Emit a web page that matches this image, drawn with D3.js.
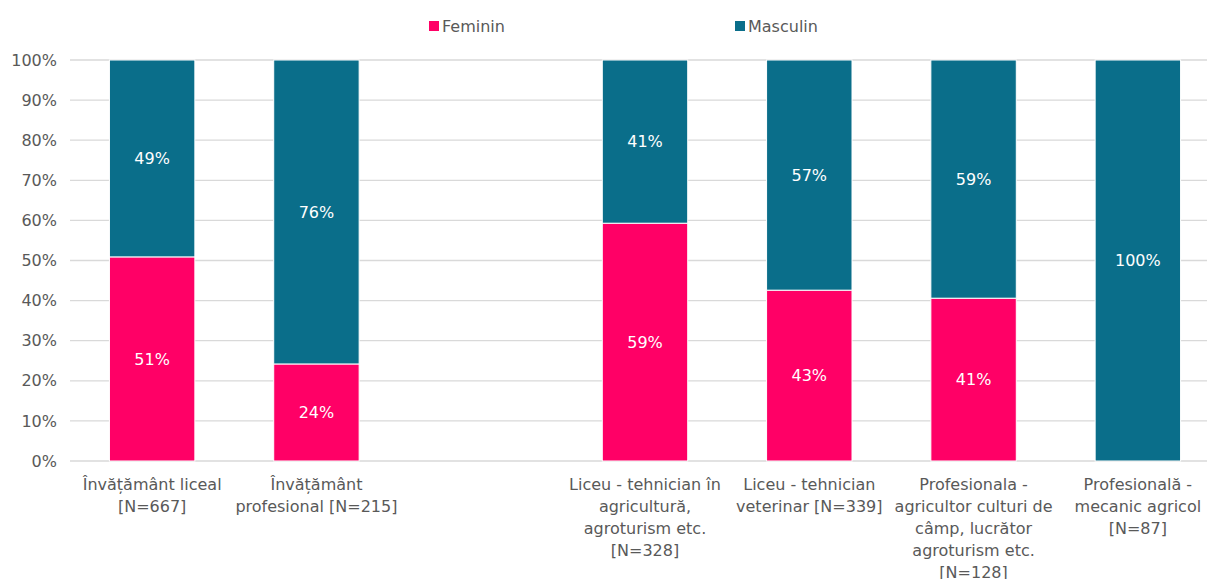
<!DOCTYPE html>
<html>
<head>
<meta charset="utf-8">
<script src="https://cdn.jsdelivr.net/npm/d3@7"></script>
<style>
  body { margin: 0; background: #fff; }
  text { font-family: "DejaVu Sans", sans-serif; }
</style>
</head>
<body>
<svg id="chart" width="1207" height="579"></svg>
<script>
// categories (empty slot keeps the gap between the two groups)
const categories = ["c1", "c2", "gap", "c4", "c5", "c6", "c7"];
const categoryLabels = [
    ["Învățământ liceal", "[N=667]"],
    ["Învățământ", "profesional [N=215]"],
    [],
    ["Liceu - tehnician în", "agricultură,", "agroturism etc.", "[N=328]"],
    ["Liceu - tehnician", "veterinar [N=339]"],
    ["Profesionala -", "agricultor culturi de", "câmp, lucrător", "agroturism etc.", "[N=128]"],
    ["Profesională -", "mecanic agricol", "[N=87]"]
];
const feminin  = [0.509, 0.242, null, 0.593, 0.426, 0.406, 0];
const masculin = [0.491, 0.758, null, 0.407, 0.574, 0.594, 1];
const yTicks = [0, 0.1, 0.2, 0.3, 0.4, 0.5, 0.6, 0.7, 0.8, 0.9, 1];

const series = [
    { key: "Feminin", values: feminin, color: "#ff0066" },
    { key: "Masculin", values: masculin, color: "#0a6e8a" }
];

const margin = { top: 60, right: -13, bottom: 118, left: 70 };
const width = 1207 - margin.left - margin.right;
const height = 579 - margin.top - margin.bottom;

const svg = d3.select("#chart");
const g = svg.append("g").attr("transform", `translate(${margin.left},${margin.top})`);

const x = d3.scaleBand().domain(categories).range([0, width]).paddingInner(0.48).paddingOuter(0.24);
const y = d3.scaleLinear().domain([0, 1]).range([height, 0]);

// gridlines
g.selectAll(".grid")
    .data(yTicks)
    .enter().append("line")
    .attr("x1", 0).attr("x2", width)
    .attr("y1", d => y(d)).attr("y2", d => y(d))
    .attr("stroke", "#d9d9d9")
    .attr("stroke-width", 1.3);

// y axis labels
const yAxis = d3.axisLeft(y).tickValues(yTicks).tickFormat(d3.format(".0%")).tickSize(0).tickPadding(13);
g.append("g").call(yAxis)
    .call(a => a.select(".domain").remove())
    .selectAll("text")
    .attr("font-size", 16)
    .attr("fill", "#595959")
    .attr("font-family", "DejaVu Sans, sans-serif");

// stacked data
const rows = categories.map((c, i) => {
    let base = 0;
    return series.map(s => {
        const v = s.values[i];
        const seg = { cat: c, key: s.key, color: s.color, v: v, y0: base, y1: base + (v || 0) };
        base += v || 0;
        return seg;
    });
}).flat().filter(d => d.v);

g.selectAll(".bar")
    .data(rows)
    .enter().append("rect")
    .attr("x", d => x(d.cat))
    .attr("width", x.bandwidth())
    .attr("y", d => y(d.y1))
    .attr("height", d => y(d.y0) - y(d.y1))
    .attr("fill", d => d.color)
    .attr("stroke", "#fff")
    .attr("stroke-width", 1);

g.selectAll(".val")
    .data(rows)
    .enter().append("text")
    .attr("x", d => x(d.cat) + x.bandwidth() / 2)
    .attr("y", d => (y(d.y0) + y(d.y1)) / 2)
    .attr("dy", "0.35em")
    .attr("text-anchor", "middle")
    .attr("font-size", 16)
    .attr("fill", "#fff")
    .text(d => d3.format(".0%")(Math.round(d.v * 100) / 100));

// category labels
categories.forEach((c, i) => {
    const t = g.append("text")
        .attr("text-anchor", "middle")
        .attr("font-size", 16)
        .attr("fill", "#595959")
        .attr("transform", `translate(${x(c) + x.bandwidth() / 2},${height + 29})`);
    categoryLabels[i].forEach((line, j) => {
        t.append("tspan").attr("x", 0).attr("y", j * 22).text(line);
    });
});

// legend
const legendX = [429, 735];
series.forEach((s, i) => {
    svg.append("rect")
        .attr("x", legendX[i]).attr("y", 21)
        .attr("width", 10).attr("height", 10)
        .attr("fill", s.color);
    svg.append("text")
        .attr("x", legendX[i] + 13).attr("y", 26)
        .attr("dy", "0.35em")
        .attr("font-size", 16)
        .attr("fill", "#595959")
        .text(s.key);
});
</script>
</body>
</html>
